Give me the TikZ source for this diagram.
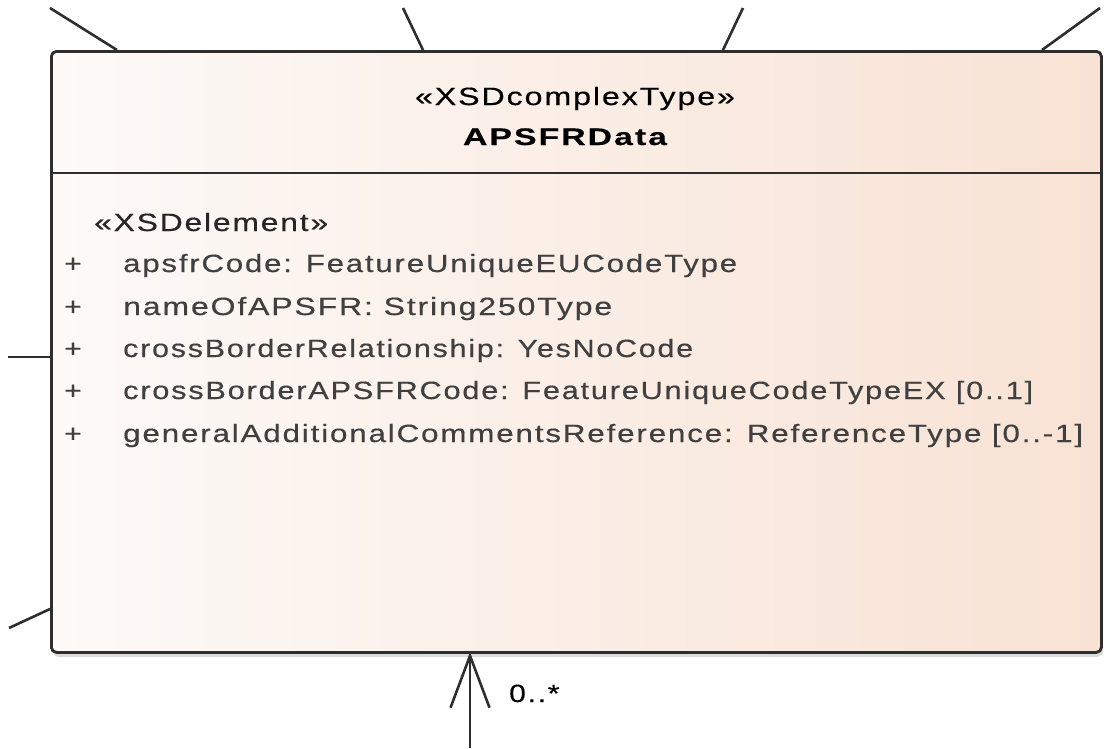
\documentclass[tikz,border=0pt]{standalone}
\usepackage{graphicx}
\usepackage{fontspec}
\setmainfont{Liberation Sans}
\newfontfamily\umlfont[FakeStretch=1.2,LetterSpace=7,FakeBold=0.4]{Liberation Sans}
\usetikzlibrary{arrows.meta,calc}
\definecolor{boxleft}{HTML}{FDFAF8}
\definecolor{boxright}{HTML}{F8E2D4}
\definecolor{edge}{HTML}{2E2E2E}
\definecolor{attr}{HTML}{404040}
\newcommand\fitw[2]{\resizebox{#1pt}{\height}{#2}}
\tikzset{
  classbox/.style={draw=edge, line width=2.8pt, rounded corners=5pt, left color=boxleft, right color=boxright, minimum width=1050pt, minimum height=601pt, inner sep=0pt, anchor=north west},
  conn/.style={draw=edge, line width=2.6pt},
  umltext/.style={inner sep=0pt, anchor=base west, font=\umlfont\fontsize{25}{29}\selectfont},
  attrtext/.style={umltext, text=attr},
}
\begin{document}
\begin{tikzpicture}[x=1pt,y=-1pt]
\useasboundingbox (0,0) rectangle (1104,748);
% shadow
\fill[black!30, opacity=0.45, rounded corners=6pt] (53,55) rectangle (1103,657);
\node[classbox] (cls) at (50,50) {};
\coordinate (sepL) at (50,173);
\coordinate (sepR) at (1100,173);
\draw[conn] (sepL) -- (sepR);
% connectors
\coordinate (t1) at (50,8);   \coordinate (b1) at (117,50);
\coordinate (t2) at (403,8);  \coordinate (b2) at (423,50);
\coordinate (t3) at (743,8);  \coordinate (b3) at (723,50);
\coordinate (t4) at (1100,8); \coordinate (b4) at (1042,50);
\coordinate (l1) at (8,357);  \coordinate (e1) at (50,357);
\coordinate (l2) at (9,628);  \coordinate (e2) at (50,609);
\draw[conn] (t1) -- (b1);
\draw[conn] (t2) -- (b2);
\draw[conn] (t3) -- (b3);
\draw[conn] (t4) -- (b4);
\draw[conn] (l1) -- (e1);
\draw[conn] (l2) -- (e2);
\coordinate (src) at (470,748);
\coordinate (dst) at (470,652);
\draw[conn, -{Straight Barb[length=52pt,width=39pt,line width=2.6pt]}] (src) -- (dst);
\node[umltext, text=black] (mult) at (509,702) {0..*};
% header
\node[umltext, anchor=base, text=black] (stereo) at (575,105) {\fitw{320}{«XSDcomplexType»}};
\node[umltext, anchor=base, text=black, font=\umlfont\bfseries\fontsize{24}{28}\selectfont] (name) at (565,145) {\fitw{204}{APSFRData}};
% attributes
\node[umltext, text=black!85] (elem) at (94,231) {\fitw{234}{«XSDelement»}};
\node[attrtext] (p1) at (64,272) {+};
\node[attrtext] (a1) at (123,272) {\fitw{614}{apsfrCode: FeatureUniqueEUCodeType}};
\node[attrtext] (p2) at (64,315) {+};
\node[attrtext] (a2) at (123,315) {\fitw{489}{nameOfAPSFR: String250Type}};
\node[attrtext] (p3) at (64,357) {+};
\node[attrtext] (a3) at (123,357) {\fitw{570}{crossBorderRelationship: YesNoCode}};
\node[attrtext] (p4) at (64,399) {+};
\node[attrtext] (a4) at (123,399) {\fitw{910}{crossBorderAPSFRCode: FeatureUniqueCodeTypeEX [0..1]}};
\node[attrtext] (p5) at (64,442) {+};
\node[attrtext] (a5) at (123,442) {\fitw{960}{generalAdditionalCommentsReference: ReferenceType [0..-1]}};
\end{tikzpicture}
\end{document}
